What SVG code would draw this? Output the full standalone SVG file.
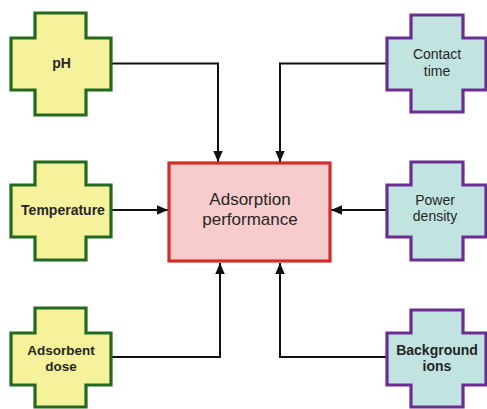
<svg xmlns="http://www.w3.org/2000/svg" width="487" height="409" viewBox="0 0 487 409">
<style>
.g{fill:#f6f29c;stroke:#23691f;stroke-width:3.2;stroke-linejoin:miter}
.p{fill:#c2e4e1;stroke:#6b2d92;stroke-width:3.2;stroke-linejoin:miter}
.t{font-family:"Liberation Sans",Arial,sans-serif;fill:#262626;text-anchor:middle}
.b{font-weight:bold}
.c{fill:none;stroke:#111;stroke-width:2}
</style>
<defs>
<marker id="ah" markerUnits="userSpaceOnUse" markerWidth="12" markerHeight="10" refX="11" refY="4.75" orient="auto">
<path d="M0,0 L11,4.75 L0,9.5 Z" fill="#111"/>
</marker>
</defs>
<rect width="487" height="409" fill="#fff"/>
<g id="connectors">
<polyline class="c" points="111,63.5 218,63.5 218,162" marker-end="url(#ah)"/>
<polyline class="c" points="387,63.5 280,63.5 280,162" marker-end="url(#ah)"/>
<line class="c" x1="111" y1="210" x2="168" y2="210" marker-end="url(#ah)"/>
<line class="c" x1="387" y1="210" x2="331" y2="210" marker-end="url(#ah)"/>
<polyline class="c" points="111,357 220,357 220,263" marker-end="url(#ah)"/>
<polyline class="c" points="387,357 280,357 280,263" marker-end="url(#ah)"/>
</g>
<g id="center">
<rect x="169" y="163" width="161" height="98" fill="#f8cccc" stroke="#d42b2b" stroke-width="3.2"/>
<text class="t" x="250" y="205" font-size="17">Adsorption</text>
<text class="t" x="250" y="225" font-size="17">performance</text>
</g>
<g id="ph">
<path class="g" d="M35,13 H86 V38 H111 V90 H86 V115 H35 V90 H11 V38 H35 Z"/>
<text class="t b" x="61.5" y="68" font-size="14">pH</text>
</g>
<g id="temperature">
<path class="g" d="M35,162 H86 V185 H111 V237 H86 V260 H35 V237 H11 V185 H35 Z"/>
<text class="t b" x="63" y="215" font-size="14">Temperature</text>
</g>
<g id="adsorbent-dose">
<path class="g" d="M35,308 H86 V333 H111 V385 H86 V407 H35 V385 H11 V333 H35 Z"/>
<text class="t b" x="61" y="355" font-size="13.5">Adsorbent</text>
<text class="t b" x="61" y="371" font-size="13.5">dose</text>
</g>
<g id="contact-time">
<path class="p" d="M411,15 H463 V38 H486 V90 H463 V112 H411 V90 H387 V38 H411 Z"/>
<text class="t" x="437" y="59" font-size="14">Contact</text>
<text class="t" x="437" y="76" font-size="14">time</text>
</g>
<g id="power-density">
<path class="p" d="M411,162 H463 V185 H486 V237 H463 V260 H411 V237 H387 V185 H411 Z"/>
<text class="t" x="435" y="205" font-size="14">Power</text>
<text class="t" x="435" y="221" font-size="14">density</text>
</g>
<g id="background-ions">
<path class="p" d="M411,310 H463 V333 H486 V385 H463 V407 H411 V385 H387 V333 H411 Z"/>
<text class="t b" x="437" y="355" font-size="14">Background</text>
<text class="t b" x="437" y="371" font-size="14">ions</text>
</g>
</svg>
